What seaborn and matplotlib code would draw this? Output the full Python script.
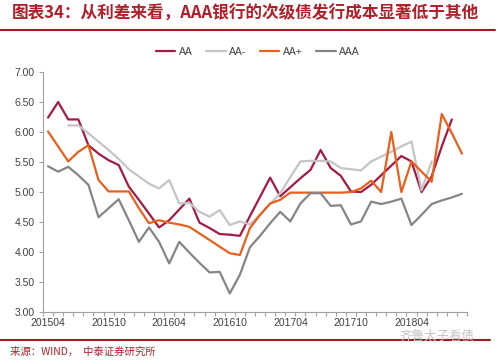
import numpy as np
import pandas as pd
import matplotlib
matplotlib.use("Agg")
import matplotlib.pyplot as plt
import seaborn as sns

months = ["201504","201505","201506","201507","201508","201509","201510","201511","201512",
          "201601","201602","201603","201604","201605","201606","201607","201608","201609",
          "201610","201611","201612","201701","201702","201703","201704","201705","201706",
          "201707","201708","201709","201710","201711","201712","201801","201802","201803",
          "201804","201805","201806","201807","201808","201809"]

aa = [6.24, 6.50, 6.21, 6.21, 5.78, 5.64, 5.53, 5.45, 5.09, 4.87, 4.64, 4.41, 4.53, 4.71,
      4.89, 4.49, 4.40, 4.30, 4.29, 4.27, 4.60, 4.92, 5.24, 4.93, 5.08, 5.23, 5.37, 5.70,
      5.40, 5.27, 5.01, 5.00, 5.12, 5.28, 5.44, 5.60, 5.51, 5.00, 5.26, 5.76, 6.21, np.nan]
aa_minus = [np.nan, np.nan, 6.11, 6.11, 5.98, 5.84, 5.70, 5.55, 5.38, 5.26, 5.14, 5.06,
            5.20, 4.81, 4.82, 4.67, 4.59, 4.70, 4.45, 4.51, 4.46, 4.62, 4.80, 4.98, 5.25,
            5.51, 5.52, 5.52, 5.51, 5.40, 5.38, 5.36, 5.51, 5.59, 5.67, 5.76, 5.84, 5.03,
            5.51, np.nan, np.nan, np.nan]
aa_plus = [6.01, 5.76, 5.51, 5.67, 5.78, 5.20, 5.01, 5.01, 5.01, 4.73, 4.48, 4.53, 4.49,
           4.46, 4.42, 4.31, 4.20, 4.09, 3.98, 3.95, 4.40, 4.62, 4.81, 4.87, 4.99, 4.99,
           4.99, 4.99, 4.99, 4.99, 5.00, 5.06, 5.19, 5.00, 6.00, 5.00, 5.51, 5.34, 5.17,
           6.30, 5.98, 5.64]
aaa = [5.43, 5.34, 5.42, 5.28, 5.12, 4.58, 4.73, 4.88, 4.53, 4.17, 4.41, 4.17, 3.81, 4.17,
       3.99, 3.82, 3.66, 3.67, 3.31, 3.62, 4.08, 4.27, 4.48, 4.67, 4.51, 4.81, 4.98, 4.98,
       4.77, 4.78, 4.46, 4.51, 4.84, 4.80, 4.84, 4.89, 4.45, 4.62, 4.80, 4.86, 4.91, 4.97]

series_names = ["AA", "AA-", "AA+", "AAA"]
colors = ["#A31A45", "#C4C4C4", "#E8601C", "#858585"]
yticks = [3.00, 3.50, 4.00, 4.50, 5.00, 5.50, 6.00, 6.50, 7.00]
xlabels = ["201504", "201510", "201604", "201610", "201704", "201710", "201804"]

frames = []
for name, vals in zip(series_names, [aa, aa_minus, aa_plus, aaa]):
    frames.append(pd.DataFrame({"idx": np.arange(len(months)), "month": months,
                                "value": vals, "series": name}))
df = pd.concat(frames, ignore_index=True).dropna()

sns.set_theme(style="white")
plt.rcParams["font.family"] = ["Liberation Sans", "Noto Sans CJK SC", "DejaVu Sans"]

fig = plt.figure(figsize=(5.0, 3.62), dpi=100)
ax = fig.add_axes([0.086, 0.138, 0.848, 0.663])

sns.lineplot(data=df, x="idx", y="value", hue="series", hue_order=series_names,
             palette=colors, linewidth=1.6, ax=ax, legend=True)

ax.set_xlim(-0.5, len(months) - 0.5)
ax.set_ylim(3.0, 7.0)
ax.set_yticks(yticks)
ax.set_yticklabels([f"{v:.2f}" for v in yticks], fontsize=7.5, color="#404040")
pos = [months.index(m) for m in xlabels]
ax.set_xticks(pos)
ax.set_xticklabels(xlabels, fontsize=7.5, color="#404040")
ax.set_xticks(np.arange(-0.5, len(months), 1.0), minor=True)
ax.tick_params(axis="x", which="major", length=0, pad=4)
ax.tick_params(axis="x", which="minor", length=3, width=0.8, color="#A0A0A0", direction="out", bottom=True)
ax.tick_params(axis="y", length=3, width=0.8, color="#A0A0A0", direction="out", left=True, pad=3)
ax.set_xlabel("")
ax.set_ylabel("")
for s in ["top", "right"]:
    ax.spines[s].set_visible(False)
for s in ["left", "bottom"]:
    ax.spines[s].set_color("#A0A0A0")
    ax.spines[s].set_linewidth(0.8)

handles, labels = ax.get_legend_handles_labels()
ax.get_legend().remove()
fig.legend(handles, labels, loc="center", bbox_to_anchor=(0.515, 0.856), ncol=4,
           frameon=False, fontsize=7.5, handlelength=1.9, handletextpad=0.3,
           columnspacing=1.3, labelcolor="#404040")

red = "#9E1C22"
fig.text(0.024, 0.962, "图表34：从利差来看，AAA银行的次级债发行成本显著低于其他",
         fontsize=12, fontweight="bold", style="italic", color="#B0202A",
         family=["Noto Sans CJK SC", "DejaVu Sans"], va="center", ha="left")
fig.add_artist(plt.Line2D([0.0, 0.99], [0.917, 0.917], color=red, linewidth=1.5,
                          transform=fig.transFigure))
fig.add_artist(plt.Line2D([0.0, 0.98], [0.061, 0.061], color=red, linewidth=1.5,
                          transform=fig.transFigure))
fig.text(0.02, 0.027, "来源：WIND，  中泰证券研究所", fontsize=7.5, color="#B0202A",
         family=["Noto Sans CJK SC", "DejaVu Sans"], va="center", ha="left")
fig.text(0.80, 0.072, "齐鲁太子看债", fontsize=9, color="#C4C4C4",
         family=["Noto Sans CJK SC", "DejaVu Sans"], va="center", ha="left")

fig.savefig("out.png", dpi=100, facecolor="white")
